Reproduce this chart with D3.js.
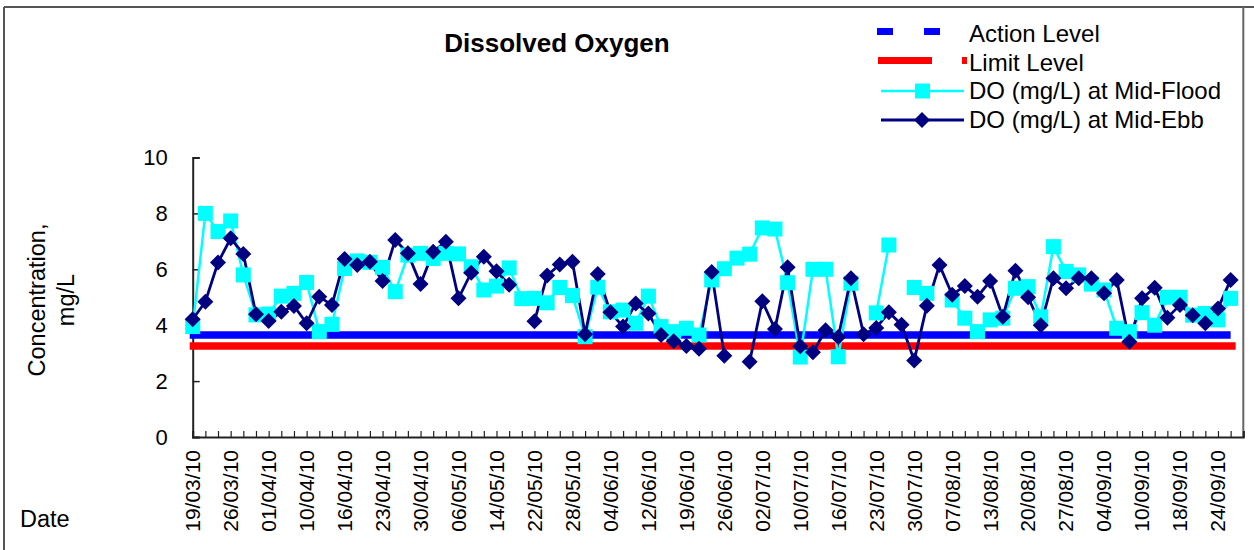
<!DOCTYPE html>
<html>
<head>
<meta charset="utf-8">
<script src="https://cdn.jsdelivr.net/npm/d3@7"></script>
<style>
  html, body { margin: 0; padding: 0; background: #fff; }
  svg { display: block; font-family: "Liberation Sans", Arial, sans-serif; }
</style>
</head>
<body>
<svg id="chart" width="1254" height="550"></svg>
<script>
// ---- data ----
const nCategories = 84; // sampling occasions on the category axis (last slot empty)
const tickLabels = ["19/03/10","26/03/10","01/04/10","10/04/10","16/04/10","23/04/10","30/04/10",
  "06/05/10","14/05/10","22/05/10","28/05/10","04/06/10","12/06/10","19/06/10","26/06/10",
  "02/07/10","10/07/10","16/07/10","23/07/10","30/07/10","07/08/10","13/08/10","20/08/10",
  "27/08/10","04/09/10","10/09/10","18/09/10","24/09/10"];
const labelEvery = 3;
const actionLevel = 3.65;
const limitLevel = 3.26;
const yTicks = [0, 2, 4, 6, 8, 10];
const floodDO = [3.95,8.0,7.35,7.73,5.8,4.37,4.4,5.04,5.14,5.53,3.77,4.03,6.03,6.3,6.25,6.07,5.2,
  6.51,6.57,6.39,6.57,6.55,6.09,5.26,5.4,6.05,4.95,4.96,4.8,5.35,5.06,3.59,5.36,4.48,4.54,4.07,
  5.04,3.95,3.77,3.89,3.65,5.62,6.02,6.4,6.54,7.48,7.44,5.52,2.86,6.0,6.0,2.87,5.5,null,4.44,
  6.87,null,5.35,5.14,null,4.9,4.25,3.77,4.19,4.25,5.32,5.38,4.3,6.81,5.92,5.8,5.47,5.26,3.89,
  3.77,4.45,4.0,5.0,5.0,4.36,4.42,4.19,4.96];
const ebbDO = [4.21,4.84,6.24,7.11,6.55,4.39,4.15,4.48,4.69,4.07,5.02,4.72,6.37,6.15,6.27,5.58,7.05,
  6.57,5.47,6.63,6.99,4.96,5.88,6.45,5.93,5.45,null,4.14,5.78,6.17,6.27,3.68,5.83,4.46,3.95,4.78,
  4.42,3.65,3.43,3.26,3.16,5.9,2.91,null,2.69,4.86,3.86,6.07,3.25,3.03,3.82,3.58,5.68,3.68,3.9,
  4.46,4.02,2.74,4.7,6.15,5.09,5.4,5.02,5.58,4.3,5.95,5.0,4.0,5.68,5.32,5.68,5.68,5.14,5.62,3.41,
  4.96,5.34,4.27,4.72,4.36,4.07,4.6,5.62];

// ---- drawing ----
const svg = d3.select("#chart");
const plotL = 192.7, plotR = 1243.3, plotT = 157.5, plotB = 437;
const cats = d3.range(nCategories);
const x = d3.scalePoint().domain(cats).range([plotL, plotR]).padding(0);
const y = d3.scaleLinear().domain([0, 10]).range([plotB, plotT]);

// chart frame
svg.append("line").attr("x1", 4).attr("x2", 4).attr("y1", 7).attr("y2", 550)
  .attr("stroke", "#555").attr("stroke-width", 2);
svg.append("line").attr("x1", 4).attr("x2", 1254).attr("y1", 7).attr("y2", 7)
  .attr("stroke", "#555").attr("stroke-width", 2);
svg.append("line").attr("x1", plotR).attr("x2", plotR).attr("y1", 7).attr("y2", plotB)
  .attr("stroke", "#666").attr("stroke-width", 2);

// title
svg.append("text").attr("x", 557).attr("y", 52).attr("text-anchor", "middle")
  .attr("font-size", 26).attr("font-weight", "bold").text("Dissolved Oxygen");

// y axis
const yAxis = d3.axisLeft(y).tickValues(yTicks).tickSize(-7).tickPadding(25).tickFormat(d3.format("d"));
const gy = svg.append("g").attr("transform", `translate(${plotL},0)`).call(yAxis);
gy.select(".domain").attr("stroke", "#222").attr("stroke-width", 2);
gy.selectAll(".tick line").attr("stroke", "#222").attr("stroke-width", 1.5);
gy.selectAll(".tick text").attr("font-size", 22).attr("font-family", "Liberation Sans, Arial, sans-serif").attr("fill", "#000");

// x axis
const xAxis = d3.axisBottom(x).tickValues(cats).tickSize(-6).tickFormat(() => "");
const gx = svg.append("g").attr("transform", `translate(0,${plotB})`).call(xAxis);
gx.select(".domain").attr("stroke", "#222").attr("stroke-width", 2);
gx.selectAll(".tick line").attr("stroke", "#222").attr("stroke-width", 1.2);

// rotated x labels
svg.append("g").selectAll("text").data(tickLabels).join("text")
  .attr("transform", (d, i) => `translate(${x(i * labelEvery)},450) rotate(-90)`)
  .attr("text-anchor", "end").attr("dy", "0.35em")
  .attr("font-size", 21).text(d => d);

// axis titles
svg.append("text").attr("transform", "translate(45,300) rotate(-90)")
  .attr("text-anchor", "middle").attr("font-size", 23.5).text("Concentration,");
svg.append("text").attr("transform", "translate(74,300) rotate(-90)")
  .attr("text-anchor", "middle").attr("font-size", 23.5).text("mg/L");
svg.append("text").attr("x", 20).attr("y", 527).attr("font-size", 23.5).text("Date");

// action / limit level lines
const lastDataIdx = floodDO.length - 1;
svg.append("line").attr("x1", x(0) - 3).attr("x2", x(lastDataIdx))
  .attr("y1", y(actionLevel)).attr("y2", y(actionLevel))
  .attr("stroke", "#0000FF").attr("stroke-width", 7.5);
svg.append("line").attr("x1", x(0) - 3).attr("x2", x(lastDataIdx) + 5)
  .attr("y1", y(limitLevel)).attr("y2", y(limitLevel))
  .attr("stroke", "#FF0000").attr("stroke-width", 7.5);

// series lines
const line = d3.line().defined(d => d != null).x((d, i) => x(i)).y(d => y(d));
svg.append("path").datum(floodDO).attr("d", line)
  .attr("fill", "none").attr("stroke", "#00FFFF").attr("stroke-width", 2.5);
svg.append("path").datum(ebbDO).attr("d", line)
  .attr("fill", "none").attr("stroke", "#000080").attr("stroke-width", 2.8);

// markers
const sq = 15;
svg.append("g").selectAll("rect").data(floodDO.map((v, i) => ({v, i})).filter(d => d.v != null))
  .join("rect")
  .attr("x", d => x(d.i) - sq / 2).attr("y", d => y(d.v) - sq / 2)
  .attr("width", sq).attr("height", sq).attr("fill", "#00FFFF");
const dm = 8;
svg.append("g").selectAll("path").data(ebbDO.map((v, i) => ({v, i})).filter(d => d.v != null))
  .join("path")
  .attr("d", d => {
    const cx = x(d.i), cy = y(d.v);
    return `M${cx},${cy - dm}L${cx + dm},${cy}L${cx},${cy + dm}L${cx - dm},${cy}Z`;
  })
  .attr("fill", "#000080");

// legend
const lg = svg.append("g");
lg.append("rect").attr("x", 877).attr("y", 28).attr("width", 16).attr("height", 7).attr("fill", "#0000FF");
lg.append("rect").attr("x", 924).attr("y", 28).attr("width", 16).attr("height", 7).attr("fill", "#0000FF");
lg.append("rect").attr("x", 878).attr("y", 57).attr("width", 54).attr("height", 7).attr("fill", "#FF0000");
lg.append("rect").attr("x", 962).attr("y", 57).attr("width", 5).attr("height", 7).attr("fill", "#FF0000");
lg.append("line").attr("x1", 881).attr("x2", 964).attr("y1", 91).attr("y2", 91)
  .attr("stroke", "#00FFFF").attr("stroke-width", 2.5);
lg.append("rect").attr("x", 915).attr("y", 83.5).attr("width", 15).attr("height", 15).attr("fill", "#00FFFF");
lg.append("line").attr("x1", 881).attr("x2", 964).attr("y1", 120).attr("y2", 120)
  .attr("stroke", "#000080").attr("stroke-width", 2.8);
lg.append("path").attr("d", "M922,112L930,120L922,128L914,120Z").attr("fill", "#000080");
const legendTexts = ["Action Level", "Limit Level", "DO (mg/L) at Mid-Flood", "DO (mg/L) at Mid-Ebb"];
const legendY = [41.5, 70.5, 99, 127.5];
lg.selectAll("text.lt").data(legendTexts).join("text").attr("class", "lt")
  .attr("x", 969).attr("y", (d, i) => legendY[i]).attr("font-size", 24).text(d => d);
</script>
</body>
</html>
